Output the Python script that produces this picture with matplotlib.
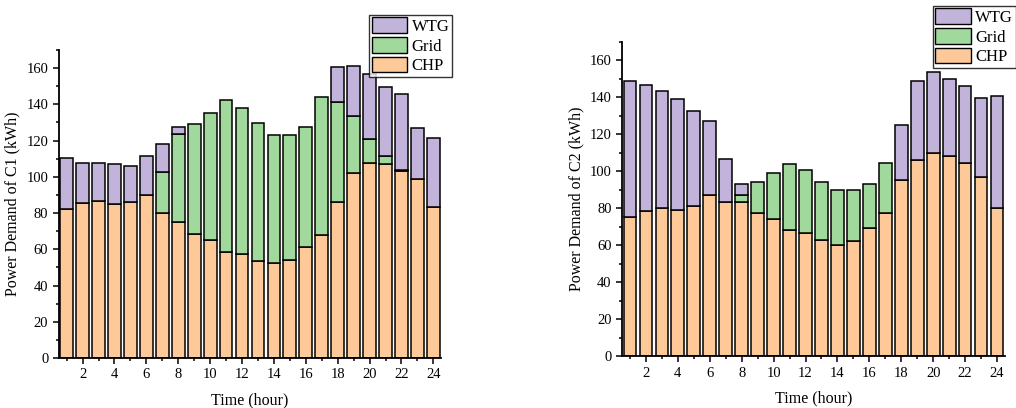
import matplotlib
matplotlib.use("Agg")
import matplotlib.pyplot as plt
from matplotlib.ticker import MultipleLocator
from matplotlib.patches import Patch
import numpy as np

hours = list(range(1, 25))

# C1 (left panel)
c1_chp = [82.5, 85.8, 86.9, 85.2, 86.0, 90.0, 79.9, 75.0, 68.7, 65.0, 58.4, 57.3,
          53.8, 52.2, 54.2, 61.0, 67.8, 86.3, 102.0, 107.8, 106.9, 103.3, 98.7, 83.6]
c1_grid = [0, 0, 0, 0, 0, 0, 23.0, 48.8, 60.5, 70.4, 84.2, 80.7,
           75.7, 71.1, 69.1, 66.3, 76.1, 55.2, 31.7, 12.9, 4.6, 0.5, 0, 0]
c1_wtg = [28.1, 21.9, 20.8, 21.9, 20.0, 21.7, 15.2, 3.7, 0, 0, 0, 0,
          0, 0, 0, 0, 0, 18.9, 27.4, 36.0, 38.0, 41.9, 28.4, 38.0]

# C2 (right panel)
c2_chp = [75.1, 78.4, 80.0, 79.1, 81.3, 87.4, 83.2, 83.6, 77.5, 74.0, 68.1, 66.7,
          62.7, 60.2, 62.5, 69.4, 77.5, 95.3, 105.9, 109.7, 108.1, 104.3, 96.8, 80.2]
c2_grid = [0, 0, 0, 0, 0, 0, 0, 3.8, 16.7, 24.9, 35.9, 33.8,
           31.7, 29.7, 27.4, 23.6, 27.2, 0, 0, 0, 0, 0, 0, 0]
c2_wtg = [73.4, 68.1, 63.6, 59.8, 51.1, 40.0, 23.6, 5.6, 0, 0, 0, 0,
          0, 0, 0, 0, 0, 29.6, 42.7, 44.0, 41.6, 41.6, 43.0, 60.7]

series_names = ["WTG", "Grid", "CHP"]
col_chp = "#FDC999"
col_grid = "#A1D99C"
col_wtg = "#C1B3D9"

plt.rcParams['font.family'] = ['Liberation Serif', 'DejaVu Serif']

fig = plt.figure(figsize=(10.16, 4.08), dpi=100)
W, H = 1016, 408

def make_ax(left, right, top, bottom):
    return fig.add_axes([left / W, 1 - bottom / H, (right - left) / W, (bottom - top) / H])

ax1 = make_ax(58.7, 441.3, 50, 358)
ax2 = make_ax(622, 1005, 41.7, 356.3)

def draw(ax, chp, grid, wtg, ylabel, legend_anchor):
    x = np.array(hours)
    chp = np.array(chp); grid = np.array(grid); wtg = np.array(wtg)
    ax.bar(x, chp, width=0.8, color=col_chp, edgecolor="black", linewidth=1.1)
    b2 = ax.bar(x, grid, width=0.8, bottom=chp, color=col_grid, edgecolor="black", linewidth=1.1)
    b3 = ax.bar(x, wtg, width=0.8, bottom=chp + grid, color=col_wtg, edgecolor="black", linewidth=1.1)
    for bars, vals in ((b2, grid), (b3, wtg)):
        for r, v in zip(bars, vals):
            if v == 0:
                r.set_visible(False)
    ax.set_xlim(0.5, 24.5)
    ax.set_ylim(0, 170)
    ax.xaxis.set_major_locator(MultipleLocator(2))
    ax.xaxis.set_minor_locator(MultipleLocator(1))
    ax.yaxis.set_major_locator(MultipleLocator(20))
    ax.yaxis.set_minor_locator(MultipleLocator(10))
    ax.set_xticks(range(2, 25, 2))
    ax.tick_params(which="major", direction="out", length=4, width=1.1, labelsize=10.5)
    ax.tick_params(which="minor", direction="out", length=2.5, width=1.1)
    for s in ("top", "right"):
        ax.spines[s].set_visible(False)
    for s in ("left", "bottom"):
        ax.spines[s].set_linewidth(1.3)
    ax.set_xlabel("Time (hour)", fontsize=11.5, labelpad=8)
    ax.set_ylabel(ylabel, fontsize=11.5, labelpad=4)
    handles = [Patch(facecolor=c, edgecolor="black", linewidth=1.0)
               for c in (col_wtg, col_grid, col_chp)]
    leg = ax.legend(handles, series_names, loc="upper right",
                    bbox_to_anchor=legend_anchor, bbox_transform=fig.transFigure,
                    fontsize=12, frameon=True, fancybox=False, edgecolor="black",
                    handlelength=2.15, handleheight=1.08, labelspacing=0.12,
                    handletextpad=0.25, borderpad=0.15, borderaxespad=0)
    leg.get_frame().set_linewidth(1.0)

draw(ax1, c1_chp, c1_grid, c1_wtg, "Power Demand of C1 (kWh)", (452 / W, 1 - 15 / H))
draw(ax2, c2_chp, c2_grid, c2_wtg, "Power Demand of C2 (kWh)", (1015.5 / W, 1 - 6 / H))

fig.savefig("out.png", dpi=100)
